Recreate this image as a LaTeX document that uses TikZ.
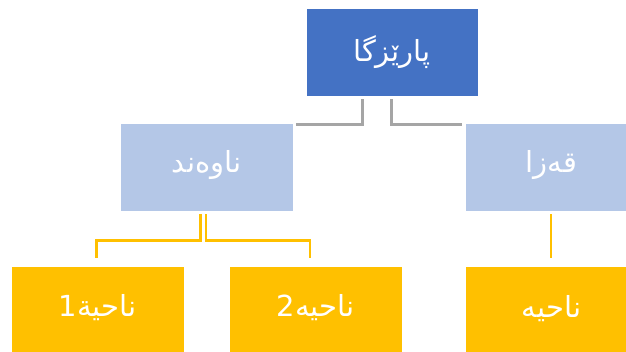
\documentclass[tikz,border=0pt]{standalone}
\usepackage{fontspec}
\usetikzlibrary{calc}
\TeXXeTstate=1
\newfontfamily\arabicfont[Script=Arabic]{DejaVu Sans}
\definecolor{topblue}{HTML}{4472C4}
\definecolor{midblue}{HTML}{B4C7E7}
\definecolor{gold}{HTML}{FFC000}
\definecolor{lgray}{HTML}{A5A5A5}
\tikzset{
  box/.style={draw=white, line width=0.6pt, minimum width=173pt, minimum height=88pt, inner sep=0pt,
    text=white, font=\arabicfont\fontsize{29}{34}\selectfont},
  topbox/.style={box, fill=topblue, minimum width=172pt},
  midbox/.style={box, fill=midblue},
  lowbox/.style={box, fill=gold},
  gline/.style={draw=lgray, line width=2.6pt},
  yline/.style={draw=gold, line width=2.6pt},
}
\begin{document}
\begin{tikzpicture}[x=1pt,y=-1pt]
\useasboundingbox (0,0) rectangle (626,351);
\clip (0,0) rectangle (626,351);
\node[topbox] (top) at (392,52) {\raisebox{5pt}{\beginR پارێزگا\endR}};
\node[midbox] (nav) at (206.5,167) {\raisebox{11pt}{\beginR ناوەند\endR}};
\node[midbox] (qaza) at (551.5,167) {\raisebox{11pt}{\beginR قەزا\endR}};
\node[lowbox] (n1) at (97.5,310) {\raisebox{10pt}{\beginR ناحية1\endR}};
\node[lowbox] (n2) at (315.5,310) {\raisebox{10pt}{\beginR ناحيه2\endR}};
\node[lowbox] (n3) at (551.5,310) {\raisebox{7pt}{\beginR ناحيه\endR}};
\draw[gline] ($(top.south)+(-29.5,3)$) |- ($(nav.north east)+(3,2)$);
\draw[gline] ($(top.south)+(-0.5,3)$) |- ($(qaza.north west)+(-3,2)$);
\draw[yline] ($(nav.south)+(-6,2.5)$) -- ($(nav.south)+(-6,29)$) -| ($(n1.north)+(-1,-7.5)$);
\draw[yline] ($(nav.south)+(-0.5,2.5)$) -- ($(nav.south)+(-0.5,29)$) -| ($(n2.north)+(-5.5,-7.5)$);
\draw[yline] ($(qaza.south)+(-0.5,3)$) -- ($(n3.north)+(-0.5,-8)$);
\end{tikzpicture}
\end{document}
